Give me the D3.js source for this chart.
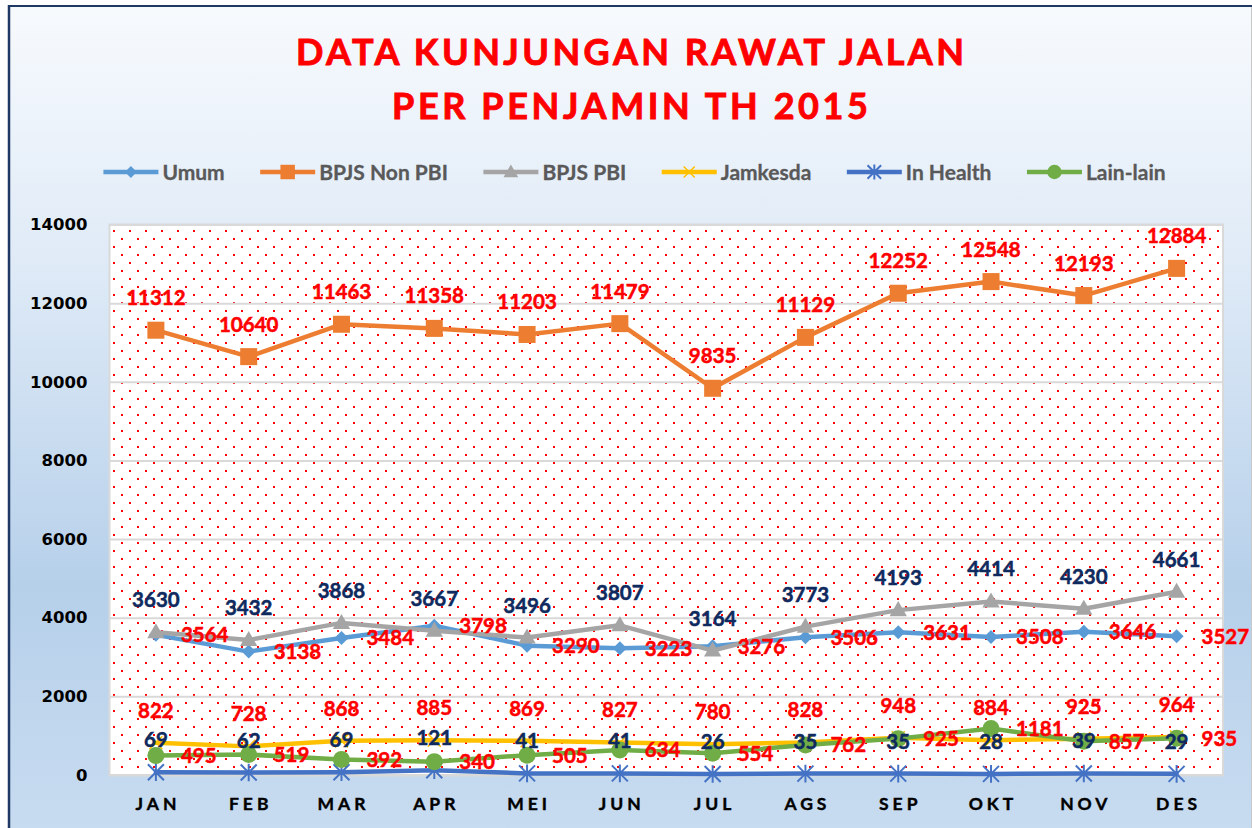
<!DOCTYPE html>
<html><head><meta charset="utf-8">
<script src="https://cdn.jsdelivr.net/npm/d3@7"></script>
<style>body{margin:0;background:#fff}svg{display:block}</style>
</head><body>
<svg id="chart" width="1252" height="828"></svg>
<script>
const months = ["JAN","FEB","MAR","APR","MEI","JUN","JUL","AGS","SEP","OKT","NOV","DES"];
const seriesNames = ["Umum","BPJS Non PBI","BPJS PBI","Jamkesda","In Health","Lain-lain"];
const umum      = [3564,3138,3484,3798,3290,3223,3276,3506,3631,3508,3646,3527];
const bpjsNonPbi= [11312,10640,11463,11358,11203,11479,9835,11129,12252,12548,12193,12884];
const bpjsPbi   = [3630,3432,3868,3667,3496,3807,3164,3773,4193,4414,4230,4661];
const jamkesda  = [822,728,868,885,869,827,780,828,948,884,925,964];
const inHealth  = [69,62,69,121,41,41,26,35,35,28,39,29];
const lainLain  = [495,519,392,340,505,634,554,762,925,1181,857,935];
const yTicks = [0,2000,4000,6000,8000,10000,12000,14000];
const titleLines = ["DATA KUNJUNGAN RAWAT JALAN","PER PENJAMIN TH 2015"];

const RED = "#ff0000", NAVY = "#0f2a5e";
const series = [
  {name: seriesNames[0], values: umum,       color:"#5b9bd5", marker:"diamond",  pos:"right", lc:RED},
  {name: seriesNames[1], values: bpjsNonPbi, color:"#ed7d31", marker:"square",   pos:"above", lc:RED},
  {name: seriesNames[2], values: bpjsPbi,    color:"#a5a5a5", marker:"triangle", pos:"above", lc:NAVY},
  {name: seriesNames[3], values: jamkesda,   color:"#ffc000", marker:"x",        pos:"above", lc:RED},
  {name: seriesNames[4], values: inHealth,   color:"#4472c4", marker:"star",     pos:"above", lc:NAVY},
  {name: seriesNames[5], values: lainLain,   color:"#70ad47", marker:"circle",   pos:"right", lc:RED}
];

const svg = d3.select("#chart");
const defs = svg.append("defs");
const grad = defs.append("linearGradient").attr("id","bg").attr("x1",0).attr("y1",0).attr("x2",0).attr("y2",1);
[[0,"#f7fafd"],[0.3,"#e0ebf7"],[0.7,"#b6d0ea"],[1,"#c8dcf0"]].forEach(([o,c])=>grad.append("stop").attr("offset",o).attr("stop-color",c));
const pat = defs.append("pattern").attr("id","dots").attr("patternUnits","userSpaceOnUse")
  .attr("x",113).attr("y",230).attr("width",16).attr("height",16);
pat.append("rect").attr("width",16).attr("height",16).attr("fill","#fff");
pat.append("rect").attr("x",0).attr("y",0).attr("width",2).attr("height",2).attr("fill",RED);
pat.append("rect").attr("x",8).attr("y",8).attr("width",2).attr("height",2).attr("fill",RED);

// chart background + border
svg.append("rect").attr("x",9).attr("y",6).attr("width",1243).attr("height",830).attr("fill","url(#bg)");
svg.append("line").attr("x1",9).attr("x2",1252).attr("y1",6).attr("y2",6).attr("stroke","#1f3864").attr("stroke-width",2);
svg.append("line").attr("x1",9).attr("x2",9).attr("y1",5).attr("y2",828).attr("stroke","#1f3864").attr("stroke-width",2.5);
svg.append("line").attr("x1",1251.5).attr("x2",1251.5).attr("y1",7).attr("y2",828).attr("stroke","#c8c8c8").attr("stroke-width",1);

// title
svg.selectAll("text.title").data(titleLines).join("text").attr("class","title")
  .attr("x",630).attr("y",(d,i)=>65+i*54).attr("text-anchor","middle")
  .attr("textLength",(d,i)=>i===0?668:476).attr("lengthAdjust","spacing")
  .style("font-family","Lato").style("font-weight","bold").style("font-size","36px").attr("fill",RED)
  .attr("stroke",RED).attr("stroke-width",0.9)
  .text(d=>d);

const L = 109.5, R = 1223, T = 224.5, B = 775;
const x = d3.scaleBand().domain(months).range([L,R]);
const cx = m => x(m) + x.bandwidth()/2;
const y = d3.scaleLinear().domain([0,14000]).range([B,T]);

// plot area
svg.append("rect").attr("x",L).attr("y",T).attr("width",R-L).attr("height",B-T).attr("fill","url(#dots)")
  .attr("stroke","#d9d9d9").attr("stroke-width",2);
// grid
svg.append("g").attr("transform",`translate(${L},0)`)
  .call(d3.axisLeft(y).tickValues(yTicks).tickSize(-(R-L)).tickFormat(""))
  .call(g=>g.select(".domain").remove())
  .call(g=>g.selectAll("line").attr("stroke","#d9d9d9").attr("stroke-width",2));

// y axis labels
svg.append("g").attr("transform",`translate(${L},0)`)
  .call(d3.axisLeft(y).tickValues(yTicks).tickSize(0).tickPadding(22).tickFormat(d3.format("d")))
  .call(g=>g.select(".domain").remove())
  .call(g=>g.selectAll("text").style("font-family","DejaVu Sans").style("font-weight","bold").style("font-size","16.5px").attr("fill","#000"));

// x axis labels
svg.append("g").attr("transform",`translate(0,${B})`)
  .call(d3.axisBottom(x).tickSize(0).tickPadding(23))
  .call(g=>g.select(".domain").remove())
  .call(g=>g.selectAll("text").style("font-family","Lato").style("font-weight","bold").style("font-size","17.5px")
    .style("letter-spacing","4px").attr("fill","#000").attr("stroke","#000").attr("stroke-width",0.4).attr("dx","2px"));

function drawMarker(g, type, color, px, py, scale=1) {
  const s = scale;
  if (type==="diamond") {
    const r = 7*s;
    g.append("path").attr("d",`M${px},${py-r}L${px+r},${py}L${px},${py+r}L${px-r},${py}Z`).attr("fill",color);
  } else if (type==="square") {
    const r = 8.5*s;
    g.append("rect").attr("x",px-r).attr("y",py-r).attr("width",2*r).attr("height",2*r).attr("fill",color);
  } else if (type==="triangle") {
    g.append("path").attr("d",d3.symbol(d3.symbolTriangle, 130*s*s)()).attr("transform",`translate(${px},${py+1})`).attr("fill",color);
  } else if (type==="circle") {
    g.append("circle").attr("cx",px).attr("cy",py).attr("r",8.5*s).attr("fill",color);
  } else if (type==="x") {
    const r = 6.5*s;
    g.append("path").attr("d",`M${px-r},${py-r}L${px+r},${py+r}M${px-r},${py+r}L${px+r},${py-r}`)
      .attr("stroke",color).attr("stroke-width",1.5);
  } else if (type==="star") {
    const r = 8*s;
    g.append("path").attr("d",`M${px-r},${py-r}L${px+r},${py+r}M${px-r},${py+r}L${px+r},${py-r}M${px},${py-r*1.1}L${px},${py+r*1.1}`)
      .attr("stroke",color).attr("stroke-width",2);
  }
}

const line = d3.line().x((d,i)=>cx(months[i])).y(d=>y(d));
const seriesG = svg.append("g");
series.forEach(s=>{
  const g = seriesG.append("g");
  g.append("path").datum(s.values).attr("d",line).attr("fill","none").attr("stroke",s.color)
    .attr("stroke-width",4.5).attr("stroke-linejoin","round").attr("stroke-linecap","round");
  s.values.forEach((v,i)=>drawMarker(g, s.marker, s.color, cx(months[i]), y(v)));
});

// data labels
const labelsG = svg.append("g");
series.forEach(s=>{
  labelsG.selectAll(null).data(s.values).join("text")
    .attr("x",(d,i)=> s.pos==="right" ? cx(months[i])+25 : cx(months[i]))
    .attr("y",d=> s.pos==="right" ? y(d) : y(d)-25)
    .attr("dy", s.pos==="right" ? "0.36em" : 0)
    .attr("text-anchor", s.pos==="right" ? "start" : "middle")
    .style("font-family","Lato").style("font-weight","bold").style("font-size","20.5px")
    .attr("fill",s.lc).attr("stroke",s.lc).attr("stroke-width",0.5).text(d=>d);
});

// legend
const legendG = svg.append("g");
const items = series.map(s=>{
  const g = legendG.append("g");
  g.append("line").attr("x1",0).attr("x2",55).attr("y1",0).attr("y2",0).attr("stroke",s.color).attr("stroke-width",4.5);
  drawMarker(g, s.marker, s.color, 27.5, 0, 0.85);
  const t = g.append("text").attr("x",59).attr("y",0).attr("dy","0.36em")
    .style("font-family","Lato").style("font-weight","bold").style("font-size","21px").attr("fill","#595959")
    .attr("stroke","#595959").attr("stroke-width",0.3).text(s.name);
  return {g, w: 59 + t.node().getComputedTextLength()};
});
const gap = 35.5;
const total = d3.sum(items, d=>d.w) + gap*(items.length-1);
let lx = 634.5 - total/2;
items.forEach(it=>{ it.g.attr("transform",`translate(${lx},172)`); lx += it.w + gap; });
</script>
</body></html>
